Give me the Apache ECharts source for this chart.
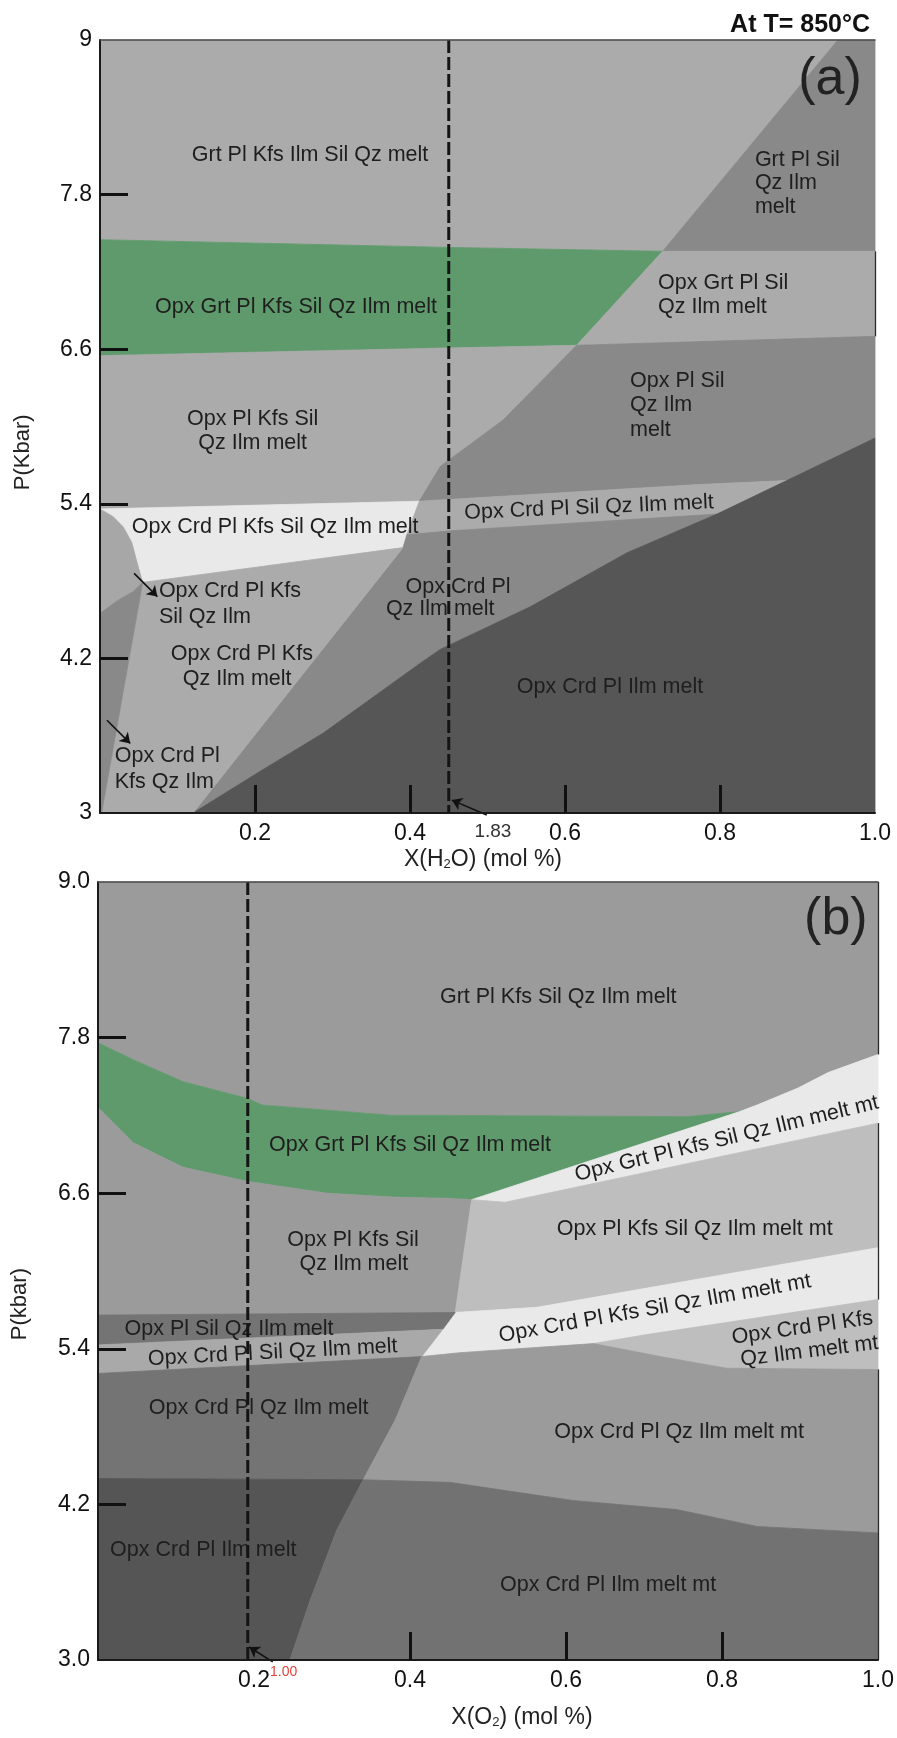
<!DOCTYPE html>
<html>
<head>
<meta charset="utf-8">
<script src="https://cdn.jsdelivr.net/npm/echarts@6/dist/echarts.min.js"></script>
<style>
  html, body { margin: 0; padding: 0; background: #ffffff; }
  #chart { width: 897px; height: 1738px; }
</style>
</head>
<body>
<div id="chart"></div>
<script>
// Pseudosection fields at T = 850 °C, vertices given as [X, P(kbar)].

// ---- (a) P – X(H2O) section ----
const aGrtPlKfsIlmSilQzMelt   = [[0,9],[0.952,9],[0.726,7.36],[0.452,7.39],[0,7.45]];
const aGrtPlSilQzIlmMelt      = [[0.952,9],[1,9],[1,7.36],[0.726,7.36]];
const aOpxGrtPlKfsSilQzIlmMelt= [[0,7.45],[0.452,7.39],[0.726,7.36],[0.615,6.63],[0.452,6.61],[0,6.55]];
const aOpxGrtPlSilQzIlmMelt   = [[0.726,7.36],[1,7.36],[1,6.70],[0.615,6.63]];
const aOpxPlKfsSilQzIlmMelt   = [[0,6.55],[0.452,6.61],[0.615,6.63],[0.520,6.05],[0.439,5.69],[0.412,5.42],[0,5.36]];
const aOpxPlSilQzIlmMelt      = [[0.615,6.63],[1,6.70],[1,5.91],[0.886,5.58],[0.774,5.55],[0.412,5.42],[0.439,5.69],[0.520,6.05]];
const aOpxCrdPlKfsSilQzIlmMelt= [[0,5.36],[0.412,5.42],[0.391,5.06],[0.055,4.79],[0.048,4.94],[0.041,5.10],[0.030,5.22],[0.017,5.30]];
const aOpxCrdPlSilQzIlmMelt   = [[0.412,5.42],[0.774,5.55],[0.886,5.58],[0.796,5.32],[0.452,5.19],[0.396,5.16]];
const aOpxCrdPlQzIlmMelt      = [[0.396,5.16],[0.452,5.19],[0.796,5.32],[0.680,5.02],[0.555,4.60],[0.439,4.27],[0.415,4.17],[0.288,3.62],[0.203,3.31],[0.12,3],[0.391,5.06]];
const aOpxCrdPlIlmMelt        = [[0.12,3],[1,3],[1,5.91],[0.886,5.58],[0.796,5.32],[0.680,5.02],[0.555,4.60],[0.439,4.27],[0.415,4.17],[0.288,3.62],[0.203,3.31]];
const aOpxCrdPlKfsQzIlmMelt   = [[0.055,4.79],[0.391,5.06],[0.12,3],[0.002,3]];
const aOpxCrdPlKfsSilQzIlm    = [[0,5.36],[0.017,5.30],[0.030,5.22],[0.041,5.10],[0.048,4.94],[0.055,4.79],[0.043,4.72],[0.023,4.65],[0,4.55]];
const aOpxCrdPlKfsQzIlm       = [[0,4.55],[0.023,4.65],[0.043,4.72],[0.055,4.79],[0.002,3],[0,3]];

// ---- (b) P – X(O2) section ----
const bGrtPlKfsSilQzIlmMelt      = [[0,9],[1,9],[1,7.67],[0.936,7.53],[0.897,7.41],[0.845,7.28],[0.823,7.23],[0.755,7.19],[0.451,7.20],[0.378,7.20],[0.210,7.28],[0.192,7.33],[0.109,7.46],[0.045,7.63],[0,7.76]];
const bOpxGrtPlKfsSilQzIlmMelt   = [[0,7.76],[0.045,7.63],[0.109,7.46],[0.192,7.33],[0.210,7.28],[0.378,7.20],[0.451,7.20],[0.755,7.19],[0.823,7.23],[0.479,6.55],[0.451,6.56],[0.378,6.57],[0.294,6.60],[0.192,6.69],[0.109,6.80],[0.045,6.99],[0,7.26]];
const bOpxGrtPlKfsSilQzIlmMeltMt = [[0.823,7.23],[0.845,7.28],[0.897,7.41],[0.936,7.53],[1,7.67],[1,7.14],[0.522,6.53],[0.479,6.55]];
const bOpxPlKfsSilQzIlmMelt      = [[0,7.26],[0.045,6.99],[0.109,6.80],[0.192,6.69],[0.294,6.60],[0.378,6.57],[0.451,6.56],[0.479,6.55],[0.458,5.68],[0,5.66]];
const bOpxPlKfsSilQzIlmMeltMt    = [[0.479,6.55],[0.522,6.53],[1,7.14],[1,6.18],[0.563,5.72],[0.458,5.68]];
const bOpxCrdPlKfsSilQzIlmMeltMt = [[0.458,5.68],[0.563,5.72],[1,6.18],[1,5.78],[0.704,5.51],[0.635,5.44],[0.464,5.37],[0.415,5.34],[0.442,5.55]];
const bOpxPlSilQzIlmMelt         = [[0,5.66],[0.458,5.68],[0.442,5.55],[0,5.43]];
const bOpxCrdPlSilQzIlmMelt      = [[0,5.43],[0.442,5.55],[0.415,5.34],[0,5.21]];
const bOpxCrdPlQzIlmMelt         = [[0,5.21],[0.415,5.34],[0.381,4.85],[0.340,4.39],[0,4.40]];
const bOpxCrdPlIlmMelt           = [[0,4.40],[0.340,4.39],[0.306,4.00],[0.272,3.46],[0.246,3],[0,3]];
const bOpxCrdPlKfsQzIlmMeltMt    = [[0.635,5.44],[0.704,5.51],[1,5.78],[1,5.24],[0.806,5.25],[0.721,5.34]];
const bOpxCrdPlQzIlmMeltMt       = [[0.415,5.34],[0.464,5.37],[0.635,5.44],[0.721,5.34],[0.806,5.25],[1,5.24],[1,3.98],[0.845,4.03],[0.742,4.16],[0.609,4.23],[0.451,4.37],[0.340,4.39],[0.381,4.85]];
const bOpxCrdPlIlmMeltMt         = [[0.340,4.39],[0.451,4.37],[0.609,4.23],[0.742,4.16],[0.845,4.03],[1,3.98],[1,3],[0.246,3],[0.272,3.46],[0.306,4.00]];

// Bulk-composition isopleths (dashed verticals) and their values
const xH2OSample = 0.45;
const xO2Sample  = 0.192;
const noteA = { t: '1.83', at: [0.507, 2.853] };
const noteB = { t: '1.00', at: [0.238, 2.907] };

// Tick values and labels
const xTickMarksA = [0.2, 0.4, 0.6, 0.8];
const xTickMarksB = [0.4, 0.6, 0.8];
const xLabelVals  = [0.2, 0.4, 0.6, 0.8, 1.0];
const xLabels     = ['0.2', '0.4', '0.6', '0.8', '1.0'];
const pTickMarks  = [4.2, 5.4, 6.6, 7.8];
const pLabelsA    = ['3', '4.2', '5.4', '6.6', '7.8', '9'];
const pLabelsB    = ['3.0', '4.2', '5.4', '6.6', '7.8', '9.0'];

// Axis titles for pressure, anchored beside each frame
const pTitleA = { t: 'P(Kbar)', at: [-0.099, 5.80] };
const pTitleB = { t: 'P(kbar)', at: [-0.100, 5.745] };

// Field names with anchor points [X, P]
const labelsA = [
  { t: 'Grt Pl Kfs Ilm Sil Qz melt', at: [0.271, 8.11] },
  { t: 'Grt Pl Sil', at: [0.845, 8.07], align: 'left' },
  { t: 'Qz Ilm',     at: [0.845, 7.89], align: 'left' },
  { t: 'melt',       at: [0.845, 7.70], align: 'left' },
  { t: 'Opx Grt Pl Kfs Sil Qz Ilm melt', at: [0.253, 6.93] },
  { t: 'Opx Grt Pl Sil', at: [0.72, 7.11], align: 'left' },
  { t: 'Qz Ilm melt',    at: [0.72, 6.93], align: 'left' },
  { t: 'Opx Pl Sil', at: [0.684, 6.35], align: 'left' },
  { t: 'Qz Ilm',     at: [0.684, 6.17], align: 'left' },
  { t: 'melt',       at: [0.684, 5.97], align: 'left' },
  { t: 'Opx Pl Kfs Sil', at: [0.197, 6.06] },
  { t: 'Qz Ilm melt',    at: [0.197, 5.87] },
  { t: 'Opx Crd Pl Kfs Sil Qz Ilm melt', at: [0.226, 5.22] },
  { t: 'Opx Crd Pl Sil Qz Ilm melt', at: [0.631, 5.37], angle: 2.5 },
  { t: 'Opx Crd Pl',  at: [0.462, 4.75] },
  { t: 'Qz Ilm melt', at: [0.439, 4.58] },
  { t: 'Opx Crd Pl Ilm melt', at: [0.658, 3.98] },
  { t: 'Opx Crd Pl Kfs', at: [0.076, 4.72], align: 'left' },
  { t: 'Sil Qz Ilm',     at: [0.076, 4.52], align: 'left' },
  { t: 'Opx Crd Pl Kfs', at: [0.183, 4.23] },
  { t: 'Qz Ilm melt',    at: [0.177, 4.04] },
  { t: 'Opx Crd Pl', at: [0.019, 3.44], align: 'left' },
  { t: 'Kfs Qz Ilm', at: [0.019, 3.24], align: 'left' }
];
const labelsB = [
  { t: 'Grt Pl Kfs Sil Qz Ilm melt', at: [0.59, 8.11] },
  { t: 'Opx Grt Pl Kfs Sil Qz Ilm melt', at: [0.40, 6.97] },
  { t: 'Opx Grt Pl Kfs Sil Qz Ilm melt mt', at: [0.806, 7.02], angle: 13.5 },
  { t: 'Opx Pl Kfs Sil', at: [0.327, 6.24] },
  { t: 'Qz Ilm melt',    at: [0.328, 6.05] },
  { t: 'Opx Pl Kfs Sil Qz Ilm melt mt', at: [0.765, 6.32] },
  { t: 'Opx Crd Pl Kfs Sil Qz Ilm melt mt', at: [0.714, 5.71], angle: 10 },
  { t: 'Opx Crd Pl Kfs', at: [0.903, 5.56], angle: 8 },
  { t: 'Qz Ilm melt mt', at: [0.912, 5.38], angle: 7 },
  { t: 'Opx Pl Sil Qz Ilm melt', at: [0.168, 5.55] },
  { t: 'Opx Crd Pl Sil Qz Ilm melt', at: [0.224, 5.37], angle: 3 },
  { t: 'Opx Crd Pl Qz Ilm melt', at: [0.206, 4.94] },
  { t: 'Opx Crd Pl Ilm melt', at: [0.135, 3.85] },
  { t: 'Opx Crd Pl Qz Ilm melt mt', at: [0.745, 4.76] },
  { t: 'Opx Crd Pl Ilm melt mt', at: [0.654, 3.58] }
];
const tagA = { t: '(a)', at: [0.942, 8.69] };
const tagB = { t: '(b)', at: [0.946, 8.71] };

// Pointer arrows (tail -> head)
const arrowsA = [
  [[0.044, 4.86], [0.074, 4.68]],
  [[0.009, 3.72], [0.039, 3.54]],
  [[0.499, 2.984], [0.454, 3.10]]
];
const arrowsB = [
  [[0.224, 2.985], [0.194, 3.10]]
];

// Frame segments on the right-hand edge
const edgeA = [[[1, 7.36], [1, 6.70]]];
const edgeB = [[[1, 9], [1, 7.67]], [[1, 7.14], [1, 5.78]], [[1, 5.24], [1, 3]]];

// ---- styling ----
const FONT = '"Liberation Sans", Arial, Helvetica, sans-serif';
const INK = '#1e1e1e';
const C = {
  lightA: '#aaabaa', lensA: '#a6a7a6', midA: '#888988', darkA: '#565656',
  white: '#e9e9e9', green: '#5f9a6c',
  greyB: '#9a9b9a', lightB: '#bebebe', bandB: '#a8a9a8', midB: '#747474', darkB: '#555555', mtB: '#727272'
};

const regionsA = [
  { pts: aGrtPlKfsIlmSilQzMelt,    fill: C.lightA },
  { pts: aGrtPlSilQzIlmMelt,       fill: C.midA },
  { pts: aOpxGrtPlKfsSilQzIlmMelt, fill: C.green },
  { pts: aOpxGrtPlSilQzIlmMelt,    fill: C.lightA },
  { pts: aOpxPlKfsSilQzIlmMelt,    fill: C.lightA },
  { pts: aOpxPlSilQzIlmMelt,       fill: C.midA },
  { pts: aOpxCrdPlKfsSilQzIlmMelt, fill: C.white },
  { pts: aOpxCrdPlSilQzIlmMelt,    fill: C.lightA },
  { pts: aOpxCrdPlQzIlmMelt,       fill: C.midA },
  { pts: aOpxCrdPlIlmMelt,         fill: C.darkA },
  { pts: aOpxCrdPlKfsQzIlmMelt,    fill: C.lightA },
  { pts: aOpxCrdPlKfsSilQzIlm,     fill: C.lensA },
  { pts: aOpxCrdPlKfsQzIlm,        fill: C.midA }
];
const regionsB = [
  { pts: bGrtPlKfsSilQzIlmMelt,      fill: C.greyB },
  { pts: bOpxGrtPlKfsSilQzIlmMelt,   fill: C.green },
  { pts: bOpxGrtPlKfsSilQzIlmMeltMt, fill: C.white },
  { pts: bOpxPlKfsSilQzIlmMelt,      fill: C.greyB },
  { pts: bOpxPlKfsSilQzIlmMeltMt,    fill: C.lightB },
  { pts: bOpxCrdPlKfsSilQzIlmMeltMt, fill: C.white },
  { pts: bOpxPlSilQzIlmMelt,         fill: C.midB },
  { pts: bOpxCrdPlSilQzIlmMelt,      fill: C.bandB },
  { pts: bOpxCrdPlQzIlmMelt,         fill: C.midB },
  { pts: bOpxCrdPlIlmMelt,           fill: C.darkB },
  { pts: bOpxCrdPlKfsQzIlmMeltMt,    fill: C.lightB },
  { pts: bOpxCrdPlQzIlmMeltMt,       fill: C.greyB },
  { pts: bOpxCrdPlIlmMeltMt,         fill: C.mtB }
];

function fieldSeries(xi, yi, regions) {
  return {
    type: 'custom', xAxisIndex: xi, yAxisIndex: yi, clip: false, silent: true, z: 2,
    data: regions.map(r => r.pts[0]),
    renderItem: (params, api) => {
      const r = regions[params.dataIndex];
      return {
        type: 'polygon',
        shape: { points: r.pts.map(p => api.coord(p)) },
        style: { fill: r.fill, stroke: r.fill, lineWidth: 0.8 }
      };
    }
  };
}

function textSeries(xi, yi, items, size, color, z) {
  return {
    type: 'custom', xAxisIndex: xi, yAxisIndex: yi, clip: false, silent: true, z: z || 3,
    data: items.map(l => l.at),
    renderItem: (params, api) => {
      const l = items[params.dataIndex];
      const p = api.coord(l.at);
      return {
        type: 'text', x: p[0], y: p[1],
        rotation: (l.angle || 0) * Math.PI / 180,
        style: {
          text: l.t, fontSize: size, fontFamily: FONT, fill: color,
          align: l.align || 'center', verticalAlign: 'middle'
        }
      };
    }
  };
}

function isopleth(xi, yi, x) {
  return {
    type: 'line', xAxisIndex: xi, yAxisIndex: yi, silent: true, z: 5,
    data: [[x, 9], [x, 3]], symbol: 'none', showSymbol: false,
    lineStyle: { color: '#141414', width: 3, type: [13, 4] }
  };
}

function arrowSeries(xi, yi, list) {
  return {
    type: 'lines', coordinateSystem: 'cartesian2d', xAxisIndex: xi, yAxisIndex: yi,
    silent: true, z: 6, clip: false,
    data: list.map(c => ({ coords: c })),
    symbol: ['none', 'arrow'], symbolSize: 10,
    lineStyle: { color: '#111111', width: 1.6, opacity: 1 }
  };
}

function edgeSeries(xi, yi, list) {
  return {
    type: 'lines', coordinateSystem: 'cartesian2d', xAxisIndex: xi, yAxisIndex: yi,
    silent: true, z: 4, clip: false,
    data: list.map(c => ({ coords: c })),
    symbol: 'none',
    lineStyle: { color: '#2a2a2a', width: 1.3, opacity: 1 }
  };
}

function xAxisMain(gi, ticks, name, namePad, gap) {
  return {
    gridIndex: gi, type: 'value', min: 0, max: 1, interval: 0.2, position: 'bottom', z: 10,
    axisLine: { show: true, onZero: false, lineStyle: { color: '#1a1a1a', width: 2 } },
    axisTick: { show: true, inside: true, length: 28, customValues: ticks,
                lineStyle: { color: '#111111', width: 3 } },
    axisLabel: { show: true, customValues: xLabelVals,
                 fontSize: 23, color: '#111111', fontFamily: FONT, margin: 9,
                 formatter: v => xLabels[Math.round(v / 0.2) - 1] || '' },
    splitLine: { show: false },
    name: name, nameLocation: 'middle', nameGap: gap,
    nameTextStyle: {
      fontSize: 23, color: '#222222', fontFamily: FONT, padding: namePad,
      rich: { s: { fontSize: 13, color: '#222222', fontFamily: FONT, padding: [10, 0, 0, 0] } }
    }
  };
}
function xAxisTop(gi) {
  return {
    gridIndex: gi, type: 'value', min: 0, max: 1, position: 'top', z: 10,
    axisLine: { show: true, onZero: false, lineStyle: { color: '#4a4a4a', width: 1.5 } },
    axisTick: { show: false }, axisLabel: { show: false }, splitLine: { show: false }
  };
}
function yAxisMain(gi, labels) {
  return {
    gridIndex: gi, type: 'value', min: 3, max: 9, interval: 1.2, z: 10,
    axisLine: { show: true, onZero: false, lineStyle: { color: '#1a1a1a', width: 2 } },
    axisTick: { show: true, inside: true, length: 28, customValues: pTickMarks,
                lineStyle: { color: '#111111', width: 3 } },
    axisLabel: { fontSize: 23, color: '#111111', fontFamily: FONT, margin: 8,
                 formatter: v => labels[Math.round((v - 3) / 1.2)] || '' },
    splitLine: { show: false }
  };
}

function pTitle(xi, yi, item) {
  return {
    type: 'custom', xAxisIndex: xi, yAxisIndex: yi, clip: false, silent: true, z: 3,
    data: [item.at],
    renderItem: (params, api) => {
      const p = api.coord(item.at);
      return {
        type: 'text', x: p[0], y: p[1], rotation: Math.PI / 2,
        style: { text: item.t, fontSize: 22, fontFamily: FONT, fill: '#222222',
                 align: 'center', verticalAlign: 'middle' }
      };
    }
  };
}

const chart = echarts.init(document.getElementById('chart'), null, { renderer: 'canvas' });
chart.setOption({
  animation: false,
  backgroundColor: '#ffffff',
  title: {
    text: 'At T= 850°C', right: 22, top: 8,
    textStyle: { fontSize: 25, fontWeight: 'bold', fontFamily: FONT, color: '#111111' }
  },
  grid: [
    { left: 100, top: 40, width: 775, height: 773 },
    { left: 98, top: 882, width: 780, height: 778 }
  ],
  xAxis: [
    xAxisMain(0, xTickMarksA, 'X(H{s|2}O) (mol %)', [0, 9, 0, 0], 35),
    xAxisTop(0),
    xAxisMain(1, xTickMarksB, 'X(O{s|2}) (mol %)', [0, 0, 0, 68], 46),
    xAxisTop(1)
  ],
  yAxis: [
    yAxisMain(0, pLabelsA),
    yAxisMain(1, pLabelsB)
  ],
  series: [
    fieldSeries(0, 0, regionsA),
    fieldSeries(2, 1, regionsB),
    edgeSeries(0, 0, edgeA),
    edgeSeries(2, 1, edgeB),
    textSeries(0, 0, labelsA, 21.5, INK),
    textSeries(2, 1, labelsB, 21.5, INK),
    textSeries(0, 0, [tagA], 52, '#222222'),
    textSeries(2, 1, [tagB], 52, '#222222'),
    pTitle(0, 0, pTitleA),
    pTitle(2, 1, pTitleB),
    isopleth(0, 0, xH2OSample),
    isopleth(2, 1, xO2Sample),
    textSeries(0, 0, [noteA], 19, '#333333', 7),
    textSeries(2, 1, [noteB], 14, '#e5443c', 7),
    arrowSeries(0, 0, arrowsA),
    arrowSeries(2, 1, arrowsB)
  ]
});
</script>
</body>
</html>
